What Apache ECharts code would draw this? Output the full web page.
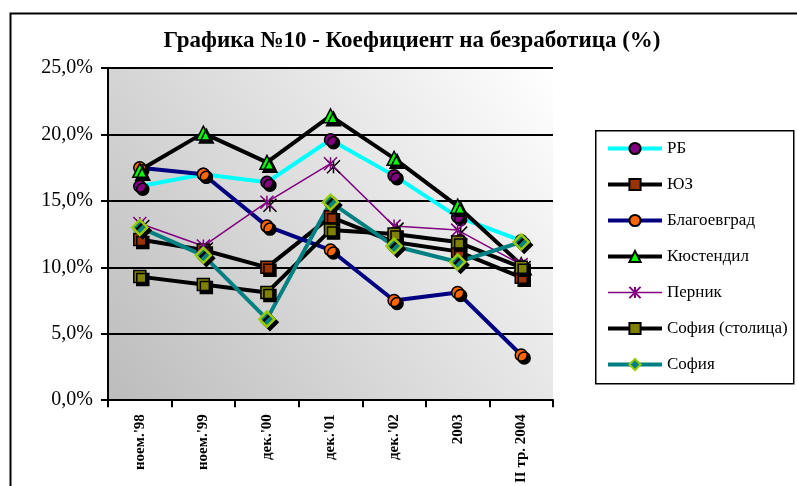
<!DOCTYPE html>
<html>
<head>
<meta charset="utf-8">
<script src="https://cdn.jsdelivr.net/npm/echarts@6/dist/echarts.min.js"></script>
<style>
  html, body { margin: 0; padding: 0; background: #fff; }
  #chart { width: 797px; height: 486px; }
</style>
</head>
<body>
<div id="chart"></div>
<script>
// categories and values (percent)
const categories = ["ноем.'98", "ноем.'99", "дек.'00", "дек.'01", "дек.'02", '2003', 'II тр. 2004']
const yTicks = [0, 5, 10, 15, 20, 25]

const rb = [16.1, 17.0, 16.4, 19.6, 16.9, 13.8, 12.0]
const yuz = [12.1, 11.3, 10.0, 13.8, 11.9, 11.2, 9.25]
const blagoevgrad = [17.5, 17.0, 13.1, 11.3, 7.5, 8.1, 3.4]
const kyustendil = [17.3, 20.1, 17.9, 21.4, 18.2, 14.6, 10.2]
const pernik = [13.3, 11.6, 14.9, 17.8, 13.1, 12.8, 10.2]
const sofiaCapital = [9.3, 8.7, 8.1, 12.8, 12.5, 11.9, 10.0]
const sofia = [13.0, 10.9, 6.1, 14.9, 11.6, 10.4, 11.9]

const FONT = 'Liberation Serif'
const STAR = 'path://M10,0L10,20M0,0L20,20M0,20L20,0'

const line = (name, data, lineColor, lineWidth, symbol, size, fill, border, borderWidth) => ({
  name: name,
  type: 'line',
  data: data,
  symbol: symbol,
  symbolSize: size,
  showAllSymbol: true,
  lineStyle: { color: lineColor, width: lineWidth },
  itemStyle: {
    color: fill,
    borderColor: border,
    borderWidth: borderWidth,
    shadowColor: '#000',
    shadowBlur: 0,
    shadowOffsetX: 3,
    shadowOffsetY: 3
  },
  emphasis: { disabled: true },
  animation: false
})

const series = [
  line('РБ', rb, '#00ffff', 4, 'circle', 12, '#800080', '#000', 1.5),
  line('ЮЗ', yuz, '#000000', 4, 'rect', 12, '#993300', '#000', 1.5),
  line('Благоевград', blagoevgrad, '#000080', 4, 'circle', 12, '#ff6600', '#000', 1.5),
  line('Кюстендил', kyustendil, '#000000', 4, 'triangle', 14, '#00ff00', '#000', 1.5),
  line('Перник', pernik, '#800080', 1.5, STAR, 13, 'rgba(0,0,0,0)', '#800080', 1.5),
  line('София (столица)', sofiaCapital, '#000000', 4, 'rect', 12, '#808000', '#000', 1.5),
  line('София', sofia, '#008080', 4, 'diamond', 15, '#008080', '#99cc00', 2.5)
]

const chart = echarts.init(document.getElementById('chart'))
const option = {
  backgroundColor: '#fff',
  animation: false,
  title: {
    text: 'Графика №10 - Коефициент на безработица (%)',
    left: 407,
    textAlign: 'center',
    top: 25,
    textStyle: { fontFamily: FONT, fontSize: 23, fontWeight: 'bold', color: '#000' }
  },
  graphic: [
    { type: 'rect', left: 8, top: 11, shape: { width: 900, height: 600 }, style: { fill: 'none', stroke: '#000', lineWidth: 2 }, z: 0 },
    { type: 'rect', left: 595, top: 130, shape: { width: 198, height: 253 }, style: { fill: '#fff', stroke: '#000', lineWidth: 1.5 }, z: 0 }
  ],
  legend: {
    orient: 'vertical',
    left: 601,
    top: 135,
    itemWidth: 54,
    itemHeight: 14,
    itemGap: 19,
    data: series.map(s => ({
      name: s.name,
      lineStyle: { width: s.lineStyle.width, color: s.lineStyle.color }
    })),
    itemStyle: { shadowColor: 'rgba(0,0,0,0)', shadowOffsetX: 0, shadowOffsetY: 0 },
    textStyle: { fontFamily: FONT, fontSize: 17, color: '#000' },
    z: 5
  },
  grid: {
    left: 108,
    top: 68,
    width: 445,
    height: 335,
    show: true,
    borderWidth: 0,
    backgroundColor: new echarts.graphic.LinearGradient(1, 0, 0, 1, [
      { offset: 0, color: '#ffffff' },
      { offset: 1, color: '#bcbcbc' }
    ])
  },
  xAxis: {
    type: 'category',
    data: categories,
    boundaryGap: true,
    axisLine: { lineStyle: { color: '#000', width: 2 } },
    axisTick: { show: true, interval: 0, length: 7, lineStyle: { color: '#000', width: 2 } },
    axisLabel: {
      interval: 0,
      rotate: 90,
      margin: 14,
      fontFamily: FONT,
      fontSize: 15,
      fontWeight: 'bold',
      color: '#000'
    }
  },
  yAxis: {
    type: 'value',
    min: yTicks[0],
    max: yTicks[yTicks.length - 1],
    interval: 5,
    axisLine: { show: true, lineStyle: { color: '#000', width: 2 } },
    axisTick: { show: true, length: 7, lineStyle: { color: '#000', width: 2 } },
    splitLine: { lineStyle: { color: '#000', width: 2 } },
    axisLabel: {
      margin: 15,
      fontFamily: FONT,
      fontSize: 20,
      color: '#000',
      formatter: v => v.toFixed(1).replace('.', ',') + '%'
    }
  },
  series: series
}
option && chart.setOption(option)
</script>
</body>
</html>
